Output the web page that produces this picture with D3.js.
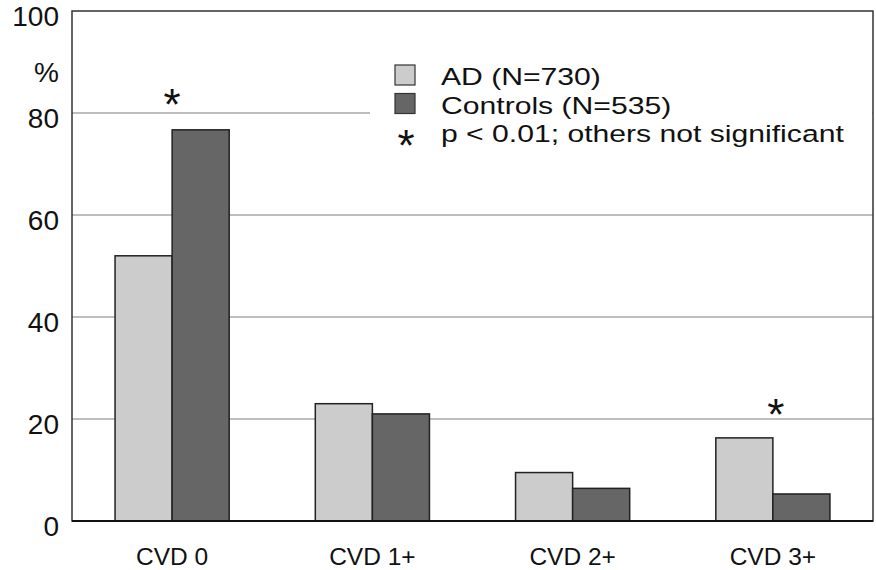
<!DOCTYPE html>
<html><head><meta charset="utf-8">
<script src="https://cdn.jsdelivr.net/npm/d3@7"></script>
<style>body{margin:0;background:#fff}svg{display:block;font-family:"Liberation Sans",Arial,sans-serif}</style>
</head><body>
<svg id="c" width="876" height="570"></svg>
<script>
const categories = ["CVD 0", "CVD 1+", "CVD 2+", "CVD 3+"];
const seriesNames = ["AD (N=730)", "Controls (N=535)"];
const adValues = [52, 23, 9.5, 16.3];
const controlValues = [76.7, 21, 6.4, 5.3];
const yTicks = [0, 20, 40, 60, 80, 100];
const significant = ["CVD 0", "CVD 3+"];
const legendNote = "p < 0.01; others not significant";

const colors = ["#cccccc", "#666666"];
const svg = d3.select("#c");
const m = {l: 72, r: 3, t: 11, b: 49};
const W = 876, H = 570;
const x = d3.scaleBand().domain(categories).range([m.l, W - m.r]).paddingInner(0.43).paddingOuter(0.215);
const xs = d3.scaleBand().domain([0, 1]).range([0, x.bandwidth()]);
const y = d3.scaleLinear().domain([0, 100]).range([H - m.b, m.t]);
const FONT = "Liberation Sans, Arial, sans-serif";

// gridlines
const grid = svg.append("g");
yTicks.filter(t => t > 0 && t < 100).forEach(t => {
  grid.append("line").attr("x1", m.l).attr("x2", W - m.r).attr("y1", y(t)).attr("y2", y(t))
    .attr("stroke", "#a8a8a8").attr("stroke-width", 1.5);
});

// legend background (covers gridline)
svg.append("rect").attr("x", 370).attr("y", 55).attr("width", W - m.r - 371).attr("height", 100).attr("fill", "#fff");

// bars
const data = categories.map((c, i) => ({c, vals: [adValues[i], controlValues[i]]}));
const g = svg.append("g");
data.forEach(d => {
  d.vals.forEach((v, k) => {
    g.append("rect").attr("x", x(d.c) + xs(k)).attr("y", y(v)).attr("width", xs.bandwidth())
      .attr("height", y(0) - y(v)).attr("fill", colors[k]).attr("stroke", "#222").attr("stroke-width", 1.5);
  });
});

// stars (glyph centre placed near given point)
function star(cx, cy) {
  svg.append("text").attr("x", cx).attr("y", cy + 23)
    .attr("text-anchor", "middle").attr("font-size", 44).attr("fill", "#111").text("*");
}
significant.forEach(c => {
  const i = categories.indexOf(c);
  const top = Math.max(adValues[i], controlValues[i]);
  const cx = x(c) + x.bandwidth() / 2 + (i === 0 ? 0 : 3);
  const cy = i === 0 ? y(top) - 33 : y(top) - 31;
  star(cx, cy);
});

// frame
svg.append("rect").attr("x", m.l).attr("y", m.t).attr("width", W - m.r - m.l).attr("height", H - m.b - m.t)
  .attr("fill", "none").attr("stroke", "#333").attr("stroke-width", 1.5);
svg.append("line").attr("x1", m.l).attr("x2", W - m.r).attr("y1", y(0)).attr("y2", y(0)).attr("stroke", "#111").attr("stroke-width", 2);

// y axis
const ya = d3.axisLeft(y).tickValues(yTicks).tickSize(0).tickPadding(13);
const yg = svg.append("g").attr("transform", `translate(${m.l},0)`).call(ya);
yg.select(".domain").remove();
yg.selectAll("text").attr("font-size", 28).attr("fill", "#111").attr("font-family", FONT).attr("dy", "0.5em");
svg.append("text").attr("x", 59).attr("y", y(88.5)).attr("text-anchor", "end").attr("dy", "0.45em")
  .attr("font-size", 28).attr("fill", "#111").attr("font-family", FONT).text("%");

// x axis
const xa = d3.axisBottom(x).tickSize(0).tickPadding(27);
const xg = svg.append("g").attr("transform", `translate(0,${y(0)})`).call(xa);
xg.select(".domain").remove();
xg.selectAll("text").attr("font-size", 24.5).attr("fill", "#111").attr("font-family", FONT);

// legend (text slightly wider than tall, as in the reference)
const lx = 395, base = 85, step = 28.5, SX = 1.23;
function legText(tx, ty, s) {
  svg.append("text").attr("transform", `translate(${tx},${ty}) scale(${SX},1)`)
    .attr("font-size", 24.5).attr("fill", "#111").attr("font-family", FONT).text(s);
}
seriesNames.forEach((n, k) => {
  svg.append("rect").attr("x", lx).attr("y", base + k * step - 20).attr("width", 20).attr("height", 20)
    .attr("fill", colors[k]).attr("stroke", "#333").attr("stroke-width", 1.2);
  legText(441, base + k * step, n);
});
star(406, base + 2 * step - 4);
legText(441, base + 2 * step, legendNote);
</script>
</body></html>
